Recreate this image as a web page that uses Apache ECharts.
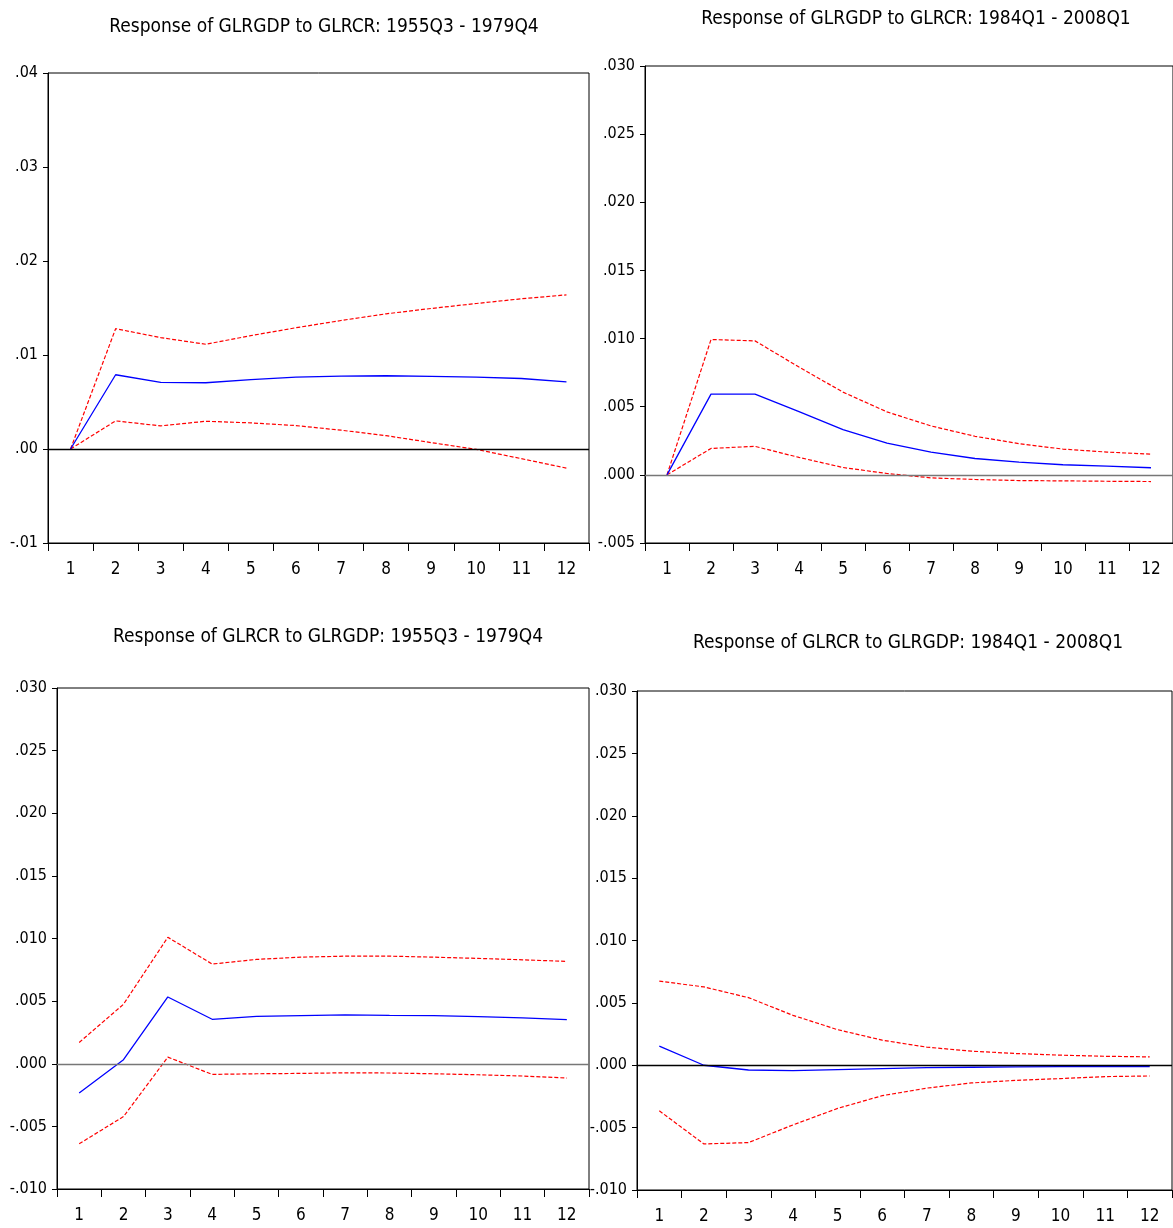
<!DOCTYPE html>
<html>
<head>
<meta charset="utf-8">
<script src="https://cdn.jsdelivr.net/npm/echarts@6/dist/echarts.min.js"></script>
<style>
html,body{margin:0;padding:0;background:#fff;}
#chart{width:1173px;height:1228px;}
</style>
</head>
<body>
<div id="chart"></div>
<script>
// ---------- data ----------
const periods = ['1','2','3','4','5','6','7','8','9','10','11','12'];

const titles = [
  'Response of GLRGDP to GLRCR: 1955Q3 - 1979Q4',
  'Response of GLRGDP to GLRCR: 1984Q1 - 2008Q1',
  'Response of GLRCR to GLRGDP: 1955Q3 - 1979Q4',
  'Response of GLRCR to GLRGDP: 1984Q1 - 2008Q1'
];

// Panel 1: GLRGDP to GLRCR, 1955Q3-1979Q4
const p1Resp  = [0, 0.0079, 0.00708, 0.00705, 0.00737, 0.00765, 0.00776, 0.00779, 0.00772, 0.00765, 0.0075, 0.00715];
const p1Upper = [0, 0.0128, 0.01185, 0.01114, 0.01206, 0.0129, 0.01367, 0.01438, 0.01495, 0.01548, 0.01598, 0.0164];
const p1Lower = [0, 0.00299, 0.00246, 0.00295, 0.00278, 0.00249, 0.002, 0.00142, 0.00068, -0.00004, -0.00103, -0.00203];

// Panel 2: GLRGDP to GLRCR, 1984Q1-2008Q1
const p2Resp  = [0, 0.00592, 0.00592, 0.00464, 0.00332, 0.00233, 0.00167, 0.0012, 0.00093, 0.00074, 0.00064, 0.00052];
const p2Upper = [0, 0.00993, 0.00983, 0.00791, 0.00607, 0.00462, 0.00359, 0.00283, 0.00229, 0.00189, 0.00167, 0.00152];
const p2Lower = [0, 0.00194, 0.00209, 0.00128, 0.00054, 0.0001, -0.00022, -0.00034, -0.00042, -0.00044, -0.00047, -0.00049];

// Panel 3: GLRCR to GLRGDP, 1955Q3-1979Q4
const p3Resp  = [-0.00233, 0.00032, 0.00533, 0.00355, 0.00379, 0.00385, 0.0039, 0.00387, 0.00385, 0.00377, 0.00366, 0.00353];
const p3Upper = [0.0017, 0.00475, 0.0101, 0.00796, 0.00833, 0.00851, 0.00859, 0.00859, 0.00851, 0.00841, 0.0083, 0.00817];
const p3Lower = [-0.00639, -0.00422, 0.00053, -0.00085, -0.0008, -0.00077, -0.00072, -0.00074, -0.0008, -0.00088, -0.00098, -0.00114];

// Panel 4: GLRCR to GLRGDP, 1984Q1-2008Q1
const p4Resp  = [0.00153, 0.0, -0.00038, -0.00043, -0.00035, -0.00027, -0.00019, -0.00016, -0.00013, -0.00011, -0.00011, -0.00011];
const p4Upper = [0.00674, 0.00628, 0.00542, 0.004, 0.00285, 0.00201, 0.00145, 0.00113, 0.00094, 0.00081, 0.00072, 0.00067];
const p4Lower = [-0.00365, -0.00631, -0.0062, -0.00478, -0.00346, -0.00244, -0.00183, -0.00142, -0.00121, -0.00107, -0.00091, -0.00086];

// axis ranges: [min, max, interval, decimals]
const yRanges = [
  [-0.01, 0.04, 0.01, 2],
  [-0.005, 0.03, 0.005, 3],
  [-0.01, 0.03, 0.005, 3],
  [-0.01, 0.03, 0.005, 3]
];

// ---------- layout ----------
const FONT = "'DejaVu Sans Condensed', 'Liberation Sans Narrow', sans-serif";
const grids = [
  {left: 48, top: 73, width: 541, height: 470},
  {left: 645, top: 66, width: 532, height: 477},
  {left: 57, top: 688, width: 532, height: 501},
  {left: 637, top: 691, width: 535, height: 499}
];
const titlePos = [
  {x: 319, y: 13},
  {x: 911, y: 5},
  {x: 323, y: 623},
  {x: 903, y: 629}
];
const zeroColors = ['#000000', '#777777', '#777777', '#000000'];
const panels = [
  [p1Resp, p1Upper, p1Lower],
  [p2Resp, p2Upper, p2Lower],
  [p3Resp, p3Upper, p3Lower],
  [p4Resp, p4Upper, p4Lower]
];

function fmt(dec) {
  return function (v) {
    let s = Number(v).toFixed(dec);
    if (Math.abs(Number(s)) === 0) s = (0).toFixed(dec);
    return s.replace(/^(-?)0\./, '$1.');
  };
}

const option = {
  animation: false,
  backgroundColor: '#ffffff',
  title: titles.map((t, i) => ({
    text: t,
    left: titlePos[i].x,
    top: titlePos[i].y,
    textAlign: 'center',
    textStyle: {fontFamily: FONT, fontSize: 19, fontWeight: 'normal', color: '#000'}
  })),
  grid: grids.map(g => Object.assign({show: true, borderColor: '#000', borderWidth: 1, backgroundColor: '#fff'}, g)),
  xAxis: grids.map((g, i) => ({
    type: 'category',
    gridIndex: i,
    data: periods,
    boundaryGap: true,
    axisLine: {show: true, onZero: false, lineStyle: {color: '#000', width: 1}},
    axisTick: {show: true, length: 8, lineStyle: {color: '#000'}},
    axisLabel: {color: '#000', fontFamily: FONT, fontSize: 17, margin: 18},
    splitLine: {show: false}
  })),
  yAxis: grids.map((g, i) => ({
    type: 'value',
    gridIndex: i,
    min: yRanges[i][0],
    max: yRanges[i][1],
    interval: yRanges[i][2],
    axisLine: {show: true, onZero: false, lineStyle: {color: '#000', width: 1}},
    axisTick: {show: true, length: 5, lineStyle: {color: '#000'}},
    axisLabel: {color: '#000', fontFamily: FONT, fontSize: 16, margin: 10, formatter: fmt(yRanges[i][3])},
    splitLine: {show: false}
  })),
  series: []
};

panels.forEach((p, i) => {
  option.series.push({
    type: 'line', xAxisIndex: i, yAxisIndex: i, data: p[0],
    symbol: 'none', lineStyle: {color: '#0000ff', width: 1.3}, z: 3,
    markLine: {
      silent: true, symbol: ['none', 'none'], label: {show: false},
      lineStyle: {color: zeroColors[i], width: 1.3, type: 'solid'},
      data: [{yAxis: 0}]
    }
  });
  [p[1], p[2]].forEach(d => option.series.push({
    type: 'line', xAxisIndex: i, yAxisIndex: i, data: d,
    symbol: 'none', lineStyle: {color: '#ff0000', width: 1.2, type: [4, 2]}, z: 2
  }));
});

const chart = echarts.init(document.getElementById('chart'), null, {renderer: 'canvas'});
chart.setOption(option);
</script>
</body>
</html>
